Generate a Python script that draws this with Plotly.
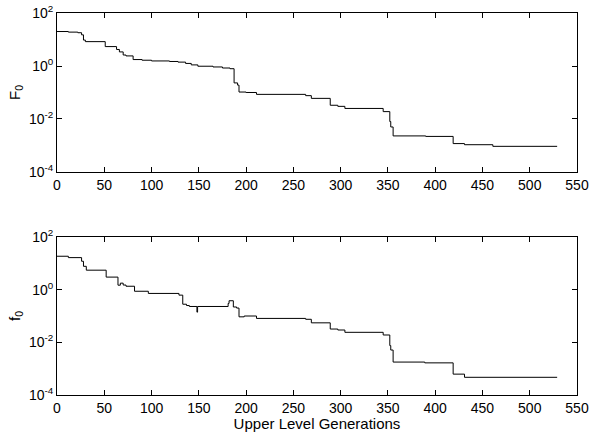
import plotly.graph_objects as go
from plotly.subplots import make_subplots

# Upper-level objective F0 (step change points)
gen_F = [0, 12, 22, 26, 28, 30, 51, 63, 66, 70, 73, 80.5, 90, 100, 119, 128, 136, 142, 149,
         165, 175, 183, 187.3, 191, 192.5, 200, 211, 263, 269, 289, 297, 304.5, 345, 352,
         353, 355.5, 390, 419, 431, 461, 529]
F0 = [20, 19, 18, 15, 9.5, 8.3, 5.4, 4.2, 3.4, 2.6, 2.4, 1.75, 1.65, 1.55, 1.48, 1.4, 1.25, 1.1, 0.98,
      0.92, 0.84, 0.79, 0.23, 0.19, 0.104, 0.1, 0.085, 0.076, 0.06, 0.033, 0.03, 0.025, 0.019, 0.008,
      0.005, 0.0023, 0.0022, 0.00118, 0.00107, 0.00093, 0.00093]

# Lower-level objective f0 (step change points)
gen_f = [0, 12, 26, 28, 31, 52, 64.5, 67, 70, 73, 82, 96.6, 129, 133, 137, 140, 148, 148.7,
         181, 182, 186.5, 190, 192.5, 198, 211, 263, 269, 289, 297, 304.5, 345, 352, 353, 355.5,
         389, 419, 431, 529]
f0 = [18.6, 16.5, 12, 7.7, 5.5, 3.0, 1.48, 1.77, 1.5, 1.35, 0.87, 0.72, 0.62, 0.28, 0.25, 0.23, 0.14, 0.23,
      0.3, 0.38, 0.22, 0.2, 0.093, 0.1, 0.081, 0.075, 0.055, 0.032, 0.0294, 0.024, 0.019, 0.0075, 0.0051, 0.00178,
      0.00166, 0.00062, 0.00047, 0.00047]

x_ticks = [0, 50, 100, 150, 200, 250, 300, 350, 400, 450, 500, 550]
y_ticks = [1e-4, 1e-2, 1e0, 1e2]
y_ticktext = ["10<sup>-4</sup>", "10<sup>-2</sup>", "10<sup>0</sup>", "10<sup>2</sup>"]

FONT = "Liberation Sans, Arial, sans-serif"

fig = make_subplots(rows=2, cols=1, vertical_spacing=0.17)
fig.add_trace(go.Scatter(x=gen_F, y=F0, mode="lines", line=dict(color="black", width=1, shape="hv")),
              row=1, col=1)
fig.add_trace(go.Scatter(x=gen_f, y=f0, mode="lines", line=dict(color="black", width=1, shape="hv")),
              row=2, col=1)

axis_common = dict(showgrid=False, zeroline=False, showline=True, linecolor="black", linewidth=1,
                   mirror="ticks", ticks="inside", ticklen=5, tickcolor="black", automargin=False,
                   tickfont=dict(family=FONT, size=14, color="black"))

for r in (1, 2):
    fig.update_xaxes(range=[0, 550], tickvals=x_ticks, ticktext=[str(v) for v in x_ticks],
                     **axis_common, row=r, col=1)
    fig.update_yaxes(type="log", range=[-4, 2], tickvals=y_ticks, ticktext=y_ticktext,
                     **axis_common, row=r, col=1)

fig.update_xaxes(title=dict(text="Upper Level Generations", font=dict(family=FONT, size=15, color="black"),
                            standoff=1), row=2, col=1)
fig.update_yaxes(title=dict(text="F<sub>0</sub>", font=dict(family=FONT, size=15, color="black"),
                            standoff=4), row=1, col=1)
fig.update_yaxes(title=dict(text="f<sub>0</sub>", font=dict(family=FONT, size=15, color="black"),
                            standoff=4), row=2, col=1)

fig.update_layout(
    width=590, height=432,
    margin=dict(l=57, r=13, t=13, b=37),
    paper_bgcolor="white", plot_bgcolor="white",
    showlegend=False,
)
fig.layout.yaxis.domain = [0.5838, 1.0]
fig.layout.yaxis2.domain = [0.0, 0.4136]

fig.write_html("out.html", config={"displayModeBar": False},
               post_script="document.body.style.margin='0';document.body.style.overflow='hidden';")
